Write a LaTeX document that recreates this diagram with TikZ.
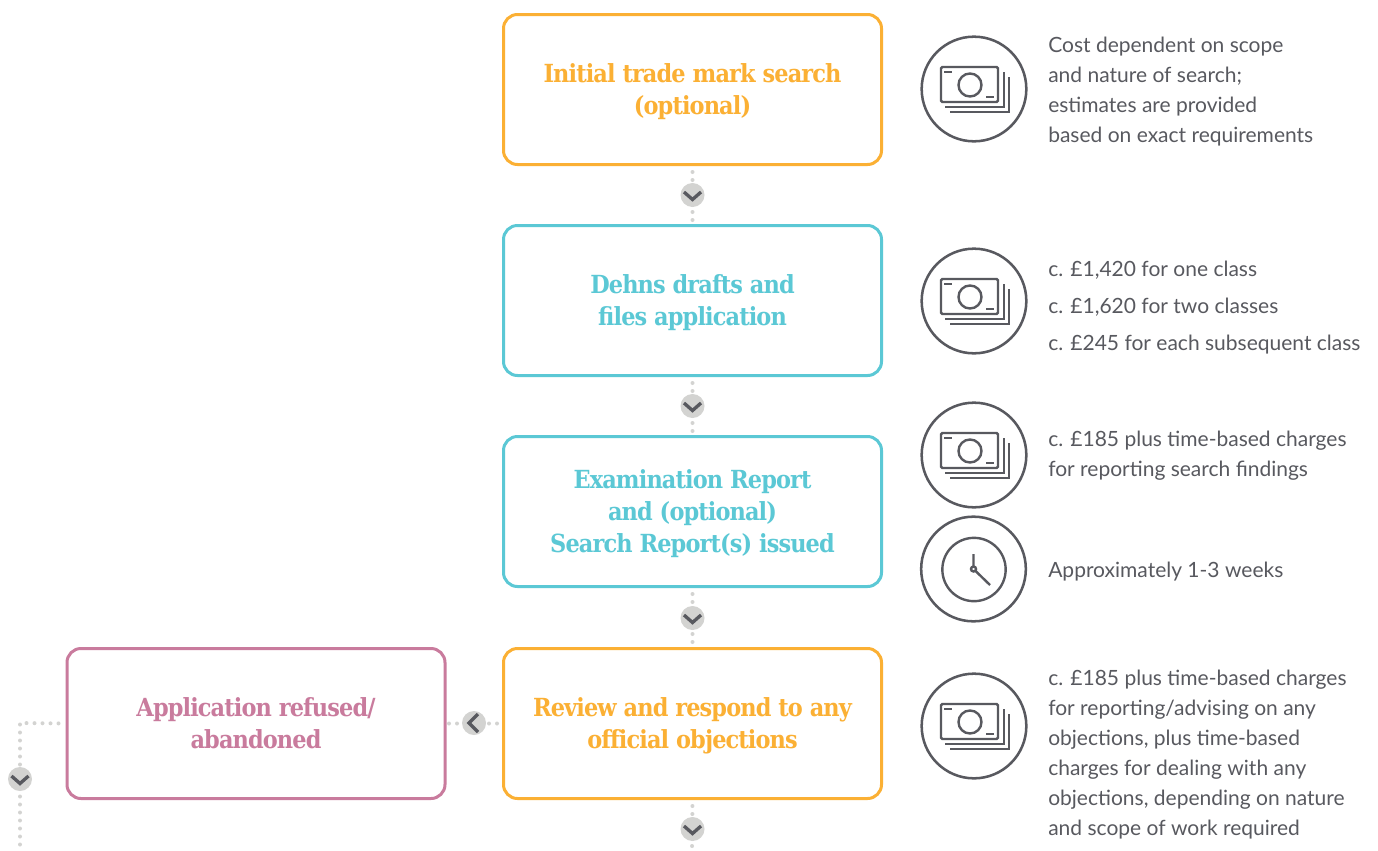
\documentclass[tikz,border=0pt]{standalone}
\usepackage{fontspec}
\setmainfont{Lato}
\newfontfamily\titlefont{DejaVu Serif Condensed Bold}[LetterSpace=-3.5]
\definecolor{orangeC}{HTML}{FBB034}
\definecolor{tealC}{HTML}{5BC8D5}
\definecolor{pinkC}{HTML}{C97B9D}
\definecolor{dotC}{HTML}{D3D3D1}
\definecolor{inkC}{HTML}{58595F}
\tikzset{
  stepbox/.style={draw=#1,text=#1,line width=2.25pt,rounded corners=10.5pt,fill=white,
    minimum width=283.5pt,minimum height=112.5pt,inner sep=0pt,align=center,
    font=\titlefont\fontsize{18.7}{24}\selectfont},
  dots/.style={draw=dotC,line width=3pt,line cap=round,dash pattern=on 0pt off 6pt},
  badge/.style={circle,fill=dotC,draw=none,minimum size=18pt,inner sep=0pt},
  chev/.style={draw=inkC,line width=2.5pt},
  ring/.style={circle,draw=inkC,line width=1.9pt,minimum size=78.5pt,inner sep=0pt},
  ink/.style={draw=inkC,line width=1.8pt},
  note/.style={anchor=north west,inner sep=0pt,align=left,text=inkC,
    font=\fontsize{15.75}{22.5}\selectfont},
}
\newcommand{\ttl}[1]{\raisebox{-1.6pt}[\height][\depth]{\begin{tabular}{@{}c@{}}#1\end{tabular}}}
\newcommand{\moneyicon}[2]{%
  \node[ring] (#1) at (#2) {};
  \begin{scope}[shift={(#2)}]
    \draw[ink,rounded corners=1pt] (-33,-22) rectangle (24,13);
    \draw[ink] (-4,-4) circle[radius=11.5];
    \draw[ink] (-30,-17) -- (-22,-17);
    \draw[ink] (12,8) -- (20,8);
    \draw[ink] (-29,18) -- (30,18) -- (30,-17);
    \draw[ink] (-24,23) -- (35,23) -- (35,-12);
  \end{scope}}
\newcommand{\downchev}[1]{%
  \draw[chev] ([shift={(-8.5,-3)}]#1.center) -- ([shift={(0,4.5)}]#1.center) -- ([shift={(8.5,-3)}]#1.center);}
\begin{document}
\begin{tikzpicture}[x=0.75pt,y=-0.75pt]
\useasboundingbox (0,0) rectangle (1378,850);
\fill[white] (0,0) rectangle (1378,850);

\coordinate (bottomend) at (692,850);
\coordinate (leftcorner) at (20,723);
\coordinate (leftend) at (20,850);

\node[stepbox=orangeC] (b1) at (692.5,89.5) {\ttl{Initial trade mark search\\(optional)}};
\node[stepbox=tealC] (b2) at (692.5,300.5) {\ttl{Dehns drafts and\\files application}};
\node[stepbox=tealC] (b3) at (692.5,511.5) {\ttl{Examination Report\\and (optional)\\Search Report(s) issued}};
\node[stepbox=orangeC] (b4) at (692.5,723.5) {\ttl{Review and respond to any\\official objections}};
\node[stepbox=pinkC] (b5) at (256,723.5) {\ttl{Application refused/\\abandoned}};

\draw[dots,dash phase=1.5pt] (b1.south) -- (b2.north);
\draw[dots,dash phase=1.5pt] (b2.south) -- (b3.north);
\draw[dots,dash phase=1.5pt] (b3.south) -- (b4.north);
\draw[dots,dash phase=1.5pt] (b4.south) -- (bottomend);
\draw[dots,dash phase=2.25pt] (b4.west) -- (b5.east);
\draw[dots,dash phase=0.75pt] (b5.west) -- (leftcorner) -- (leftend);

\node[badge] (c1) at (692.5,195) {};
\node[badge] (c2) at (692.5,406) {};
\node[badge] (c3) at (692.5,618) {};
\node[badge] (c4) at (692.5,829) {};
\node[badge] (c5) at (474,723) {};
\node[badge] (c6) at (20,779) {};
\downchev{c1}\downchev{c2}\downchev{c3}\downchev{c4}\downchev{c6}
\draw[chev] ([shift={(4,-9)}]c5.center) -- ([shift={(-5,0)}]c5.center) -- ([shift={(4,9)}]c5.center);

\moneyicon{m1}{974,89}
\moneyicon{m2}{974,301}
\moneyicon{m3}{974,455}
\moneyicon{m4}{974,726}

\node[ring] (k1) at (973.5,569) {};
\node[circle,draw=inkC,line width=1.8pt,minimum size=47.5pt,inner sep=0pt] (k2) at (974,569.5) {};
\draw[ink] (973.5,554) -- (973.5,569) -- (990,585);
\draw[ink,fill=white] (973.5,569) circle[radius=2.5];

\node[note] (t1) at (1048,37) {Cost dependent on scope\\and nature of search;\\estimates are provided\\based on exact requirements};
\node[note,font=\fontsize{15.75}{27.75}\selectfont] (t2) at (1048,261) {c. £1,420 for one class\\c. £1,620 for two classes\\c. £245 for each subsequent class};
\node[note] (t3) at (1048,431) {c. £185 plus time-based charges\\for reporting search findings};
\node[note] (t4) at (1048,562) {Approximately 1-3 weeks};
\node[note] (t5) at (1048,670) {c. £185 plus time-based charges\\for reporting/advising on any\\objections, plus time-based\\charges for dealing with any\\objections, depending on nature\\and scope of work required};
\end{tikzpicture}
\end{document}
